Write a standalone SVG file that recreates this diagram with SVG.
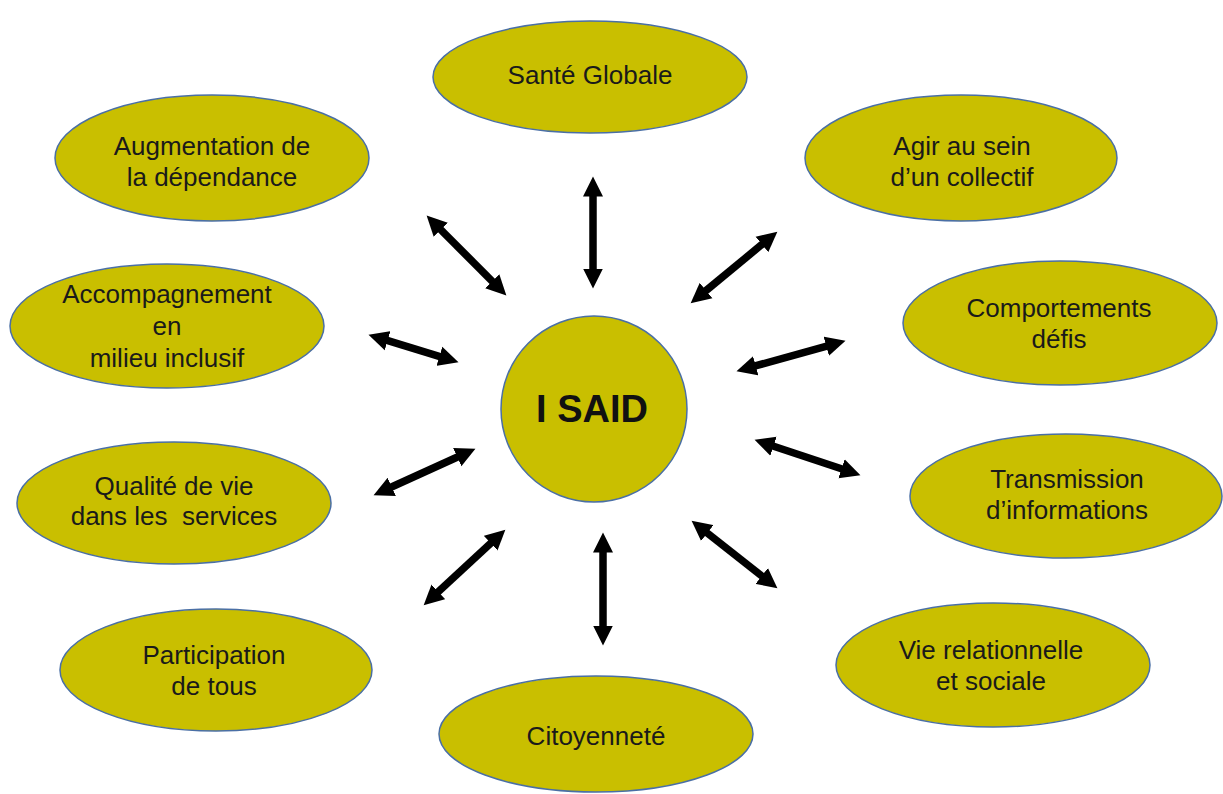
<svg xmlns="http://www.w3.org/2000/svg" width="1223" height="794" viewBox="0 0 1223 794">
<style>
.n{fill:#C9BF00;stroke:#4a6fa5;stroke-width:1.5}
.t{font-family:"Liberation Sans",Arial,sans-serif;font-size:26px;fill:#1a1a1a;text-anchor:middle;white-space:pre}
.b{font-family:"Liberation Sans",Arial,sans-serif;font-size:38px;font-weight:bold;fill:#111;text-anchor:middle}
.a{stroke:#000;stroke-width:7.5;fill:none;marker-start:url(#h);marker-end:url(#h)}
</style>
<defs>
<marker id="h" markerUnits="userSpaceOnUse" markerWidth="21" markerHeight="21" refX="1.5" refY="10.5" orient="auto-start-reverse" viewBox="0 0 21 21">
<path d="M0,0.5 L20,10.5 L0,20.5 z" fill="#000"/>
</marker>
</defs>
<rect width="1223" height="794" fill="#fff"/>
<g id="connectors">
<line class="a" x1="593" y1="195" x2="593" y2="270"/>
<line class="a" x1="439.7" y1="228.7" x2="493.3" y2="282.3"/>
<line class="a" x1="704.9" y1="291.5" x2="763.1" y2="243.5"/>
<line class="a" x1="386.2" y1="340.2" x2="440.8" y2="356.8"/>
<line class="a" x1="754.3" y1="366.2" x2="827.7" y2="345.8"/>
<line class="a" x1="390.4" y1="487.5" x2="458.6" y2="456.5"/>
<line class="a" x1="772.1" y1="445.7" x2="842.9" y2="469.3"/>
<line class="a" x1="437.2" y1="592.8" x2="491.8" y2="542.2"/>
<line class="a" x1="706.1" y1="532.1" x2="762.9" y2="576.9"/>
<line class="a" x1="603" y1="551" x2="603" y2="627"/>
</g>
<g id="center">
<circle class="n" cx="594" cy="409" r="93"/>
<text class="b" x="592" y="422">I SAID</text>
</g>
<g id="sante">
<ellipse class="n" cx="590" cy="77" rx="157" ry="56"/>
<text class="t" x="590" y="84">Santé Globale</text>
</g>
<g id="augmentation">
<ellipse class="n" cx="212" cy="158" rx="157" ry="63"/>
<text class="t" x="212" y="155">Augmentation de</text>
<text class="t" x="212" y="186">la dépendance</text>
</g>
<g id="agir">
<ellipse class="n" cx="961" cy="158" rx="156" ry="63"/>
<text class="t" x="962" y="155">Agir au sein</text>
<text class="t" x="962" y="186">d’un collectif</text>
</g>
<g id="accompagnement">
<ellipse class="n" cx="167" cy="326" rx="157" ry="62"/>
<text class="t" x="167" y="303">Accompagnement</text>
<text class="t" x="167" y="335">en</text>
<text class="t" x="167" y="367">milieu inclusif</text>
</g>
<g id="comportements">
<ellipse class="n" cx="1060" cy="323" rx="157" ry="62"/>
<text class="t" x="1059" y="317">Comportements</text>
<text class="t" x="1059" y="348">défis</text>
</g>
<g id="qualite">
<ellipse class="n" cx="174" cy="503" rx="157" ry="61"/>
<text class="t" x="174" y="495">Qualité de vie</text>
<text class="t" x="174" y="525">dans les  services</text>
</g>
<g id="transmission">
<ellipse class="n" cx="1066" cy="496" rx="156" ry="62"/>
<text class="t" x="1067" y="488">Transmission</text>
<text class="t" x="1067" y="519">d’informations</text>
</g>
<g id="participation">
<ellipse class="n" cx="216" cy="670" rx="156" ry="61"/>
<text class="t" x="214" y="664">Participation</text>
<text class="t" x="214" y="695">de tous</text>
</g>
<g id="vie">
<ellipse class="n" cx="993" cy="665" rx="157" ry="62"/>
<text class="t" x="991" y="659">Vie relationnelle</text>
<text class="t" x="991" y="690">et sociale</text>
</g>
<g id="citoyennete">
<ellipse class="n" cx="596" cy="734" rx="157" ry="58"/>
<text class="t" x="596" y="745">Citoyenneté</text>
</g>
</svg>
